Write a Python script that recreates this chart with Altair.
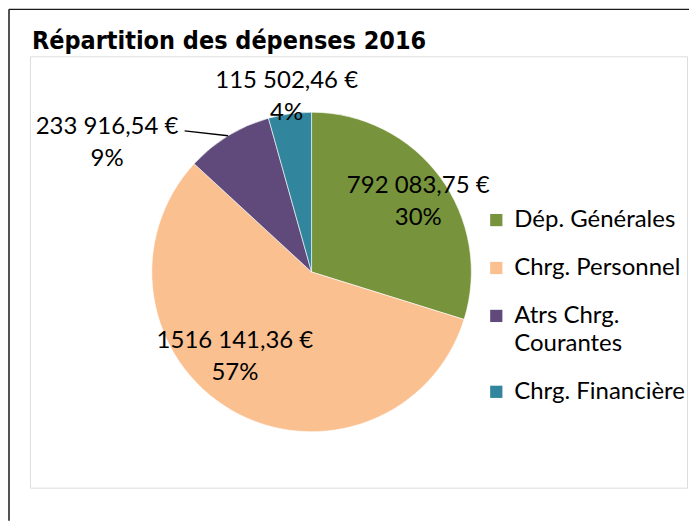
import altair as alt
import pandas as pd

title_text = "Répartition des dépenses 2016"
categories = ["Dép. Générales", "Chrg. Personnel", "Atrs Chrg. Courantes", "Chrg. Financière"]
amounts = [792083.75, 1516141.36, 233916.54, 115502.46]
amount_labels = ["792 083,75 €", "1516 141,36 €", "233 916,54 €", "115 502,46 €"]
colors = ["#77933C", "#FAC090", "#604A7B", "#31859C"]

# layout / style constants (not data)
CX, CY, R = 282, 216, 160
label_angle_offset_deg = [-2.4, 18.2, -23.2, 0.4]
label_radius = [137, 103, 251, 193]
FONT = "Lato"
FS = 24

df = pd.DataFrame({"cat": categories, "amount": amounts,
                   "amt_label": amount_labels, "idx": list(range(len(categories)))})

legend = alt.Legend(
    title=None, orient="none", legendX=455, legendY=152,
    symbolType="square", symbolSize=150, symbolStrokeWidth=0,
    labelFont=FONT, labelFontSize=FS, labelColor="black", labelOffset=6,
    rowPadding=24, padding=0, labelLimit=300,
    labelExpr="datum.label == 'Atrs Chrg. Courantes' ? ['Atrs Chrg.', 'Courantes'] : datum.label",
)

arcs = alt.Chart(df).mark_arc(outerRadius=R, stroke="white", strokeWidth=0.6).encode(
    theta=alt.Theta("amount:Q", stack=True),
    color=alt.Color("cat:N", scale=alt.Scale(domain=categories, range=colors), legend=legend),
    order=alt.Order("idx:Q"),
    x=alt.value(CX), y=alt.value(CY),
)

base = alt.Chart(df).transform_joinaggregate(
    total="sum(amount)"
).transform_window(
    cum="sum(amount)", sort=[alt.SortField("idx")]
).transform_calculate(
    mid="2*PI*(datum.cum - datum.amount/2)/datum.total",
    pct="round(datum.amount/datum.total*100) + '%'",
)

labels = base.transform_calculate(
    la="datum.mid + PI/180*" + str(label_angle_offset_deg) + "[datum.idx]",
    lr=str(label_radius) + "[datum.idx]",
    txt="[datum.amt_label, datum.pct]",
).mark_text(font=FONT, fontSize=FS, lineHeight=32, baseline="middle",
            align="center", color="black").encode(
    theta=alt.Theta("la:Q", scale=None, stack=None),
    radius=alt.Radius("lr:Q", scale=None),
    text=alt.Text("txt:N"),
    x=alt.value(CX), y=alt.value(CY),
)

leader = base.transform_filter("datum.idx == 2").transform_calculate(
    lx=f"{CX} + {R}*sin(datum.mid)",
    ly=f"{CY} - {R}*cos(datum.mid)",
    lx2=f"{CX} + 190*sin(datum.mid - PI/180*10.5)",
    ly2=f"{CY} - 190*cos(datum.mid - PI/180*10.5)",
).mark_rule(color="black", strokeWidth=1.3).encode(
    x=alt.X("lx:Q", scale=None, axis=None),
    y=alt.Y("ly:Q", scale=None, axis=None),
    x2="lx2:Q", y2="ly2:Q",
)

frame_src = alt.Chart(pd.DataFrame({"title": [title_text]}))
frame_v = frame_src.mark_rule(color="#1a1a1a", strokeWidth=1.5).encode(
    x=alt.value(-21), y=alt.value(-47), y2=alt.value(465))
frame_h = frame_src.mark_rule(color="#1a1a1a", strokeWidth=1.5).encode(
    x=alt.value(-21), x2=alt.value(660), y=alt.value(-47))
title = frame_src.mark_text(
    font="DejaVu Sans Condensed", fontSize=25, fontWeight="bold", color="black",
    align="left", baseline="alphabetic",
).encode(text="title:N", x=alt.value(2), y=alt.value(-7))

chart = alt.layer(frame_v, frame_h, title, arcs, leader, labels).properties(
    width=658, height=432, padding=0,
).configure_view(
    stroke="#8c8c8c", strokeWidth=2
).configure(
    background="white",
    style={"guide-label": {"lineHeight": 28}},
)

chart.save("out.html", embed_options={"renderer": "svg", "actions": False})
